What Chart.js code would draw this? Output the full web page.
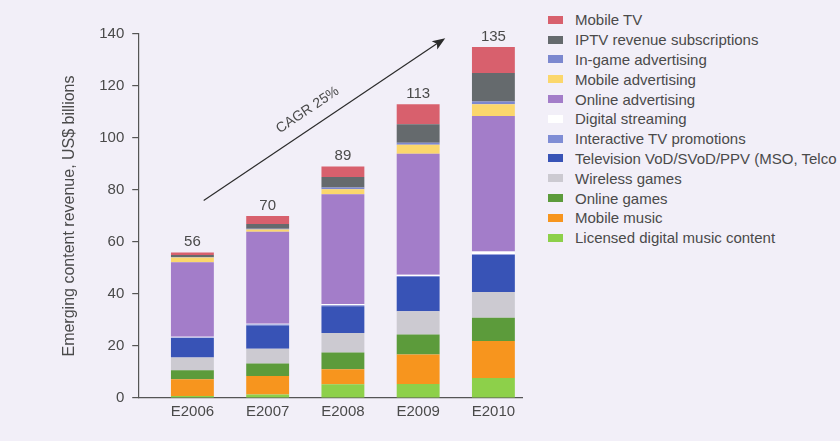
<!DOCTYPE html>
<html>
<head>
<meta charset="utf-8">
<script src="https://cdn.jsdelivr.net/npm/chart.js@4.4.1/dist/chart.umd.min.js"></script>
<style>
  body { margin: 0; background: #f2eff8; overflow: hidden; }
  #wrap { position: relative; width: 840px; height: 441px; }
  #plot { position: absolute; left: 0; top: 0; width: 540px; height: 441px; }
  #legend {
    position: absolute; left: 548px; top: 10px; margin: 0; padding: 0; list-style: none;
    font: 15px "Liberation Sans", Arial, sans-serif; color: #4a4a4a;
    white-space: nowrap;
  }
  #legend li { display: flex; align-items: center; height: 19.8px; }
  #legend span.sw { display: inline-block; width: 15px; height: 8px; margin-right: 12px; flex: none; }
</style>
</head>
<body>
<div id="wrap">
  <div id="plot"><canvas id="chartRevenue"></canvas></div>
  <ul id="legend"></ul>
</div>
<script>
// categories and series, stacked from the bottom up
const years = ['E2006', 'E2007', 'E2008', 'E2009', 'E2010'];

const licensedMusic   = [0.8, 1.3, 5.3, 5.4, 7.7];
const mobileMusic     = [6.4, 7.2, 5.8, 11.3, 14.2];
const onlineGames     = [3.5, 4.8, 6.4, 7.7, 9.0];
const wirelessGames   = [4.9, 5.6, 7.5, 9.0, 9.9];
const tvVod           = [7.5, 9.0, 10.3, 13.1, 14.2];
const interactiveTv   = [0.2, 0.4, 0.4, 0.4, 0.3];
const digitalStream   = [0.3, 0.3, 0.5, 0.5, 1.0];
const onlineAds       = [28.6, 35.3, 42.2, 46.5, 52.2];
const mobileAds       = [1.8, 0.9, 1.9, 3.5, 4.5];
const inGameAds       = [0.2, 0.3, 0.7, 0.8, 1.0];
const iptv            = [0.8, 1.8, 4.0, 7.1, 11.0];
const mobileTv        = [1.0, 3.1, 4.0, 7.7, 10.0];

const yTicks = { min: 0, max: 140, step: 20 };
const cagrText = 'CAGR 25%';
// arrow ends in data units (x = category index, y = US$ bn)
const cagrFrom = [0.15, 76];
const cagrTo = [3.36, 138.4];

const series = [
  ['Licensed digital music content', licensedMusic, '#8dd04a'],
  ['Mobile music', mobileMusic, '#f7951e'],
  ['Online games', onlineGames, '#5c9b3b'],
  ['Wireless games', wirelessGames, '#cccad1'],
  ['Television VoD/SVoD/PPV (MSO, Telco', tvVod, '#3853b6'],
  ['Interactive TV promotions', interactiveTv, '#7f8dd5'],
  ['Digital streaming', digitalStream, '#ffffff'],
  ['Online advertising', onlineAds, '#a37dc9'],
  ['Mobile advertising', mobileAds, '#fbd76c'],
  ['In-game advertising', inGameAds, '#7c88cf'],
  ['IPTV revenue subscriptions', iptv, '#656a6d'],
  ['Mobile TV', mobileTv, '#d8606d']
];

const FONT = '"Liberation Sans", Arial, sans-serif';
const TEXT = '#4a4a4a';
const AXIS = '#555555';
Chart.defaults.font.family = FONT;
Chart.defaults.font.size = 15;
Chart.defaults.color = TEXT;

// bar totals written above each stack
const totalsPlugin = {
  id: 'totals',
  afterDatasetsDraw(chart) {
    const { ctx, scales: { x, y } } = chart;
    ctx.save();
    ctx.font = '15px ' + FONT;
    ctx.fillStyle = TEXT;
    ctx.textAlign = 'center';
    ctx.textBaseline = 'bottom';
    years.forEach((_, i) => {
      const total = chart.data.datasets.reduce((s, ds) => s + ds.data[i].y, 0);
      ctx.fillText(String(Math.round(total)), x.getPixelForValue(i), y.getPixelForValue(total) - 3);
    });
    ctx.restore();
  }
};

// growth arrow with its caption
const cagrPlugin = {
  id: 'cagr',
  afterDatasetsDraw(chart) {
    const { ctx, scales: { x, y } } = chart;
    const x0 = x.getPixelForValue(cagrFrom[0]), y0 = y.getPixelForValue(cagrFrom[1]);
    const x1 = x.getPixelForValue(cagrTo[0]), y1 = y.getPixelForValue(cagrTo[1]);
    const ang = Math.atan2(y1 - y0, x1 - x0);
    ctx.save();
    ctx.strokeStyle = '#2b2b2b';
    ctx.fillStyle = '#2b2b2b';
    ctx.lineWidth = 1.2;
    ctx.beginPath();
    ctx.moveTo(x0, y0);
    ctx.lineTo(x1 - 8 * Math.cos(ang), y1 - 8 * Math.sin(ang));
    ctx.stroke();
    ctx.translate(x1, y1);
    ctx.rotate(ang);
    ctx.beginPath();
    ctx.moveTo(0, 0);
    ctx.lineTo(-13, -5);
    ctx.lineTo(-10, 0);
    ctx.lineTo(-13, 5);
    ctx.closePath();
    ctx.fill();
    ctx.restore();

    ctx.save();
    const t = 0.47;
    ctx.translate(x0 + (x1 - x0) * t, y0 + (y1 - y0) * t);
    ctx.rotate(ang);
    ctx.font = '14px ' + FONT;
    ctx.fillStyle = TEXT;
    ctx.textAlign = 'center';
    ctx.textBaseline = 'middle';
    ctx.fillText(cagrText, 0, -17);
    ctx.restore();
  }
};

new Chart(document.getElementById('chartRevenue'), {
  type: 'bar',
  data: {
    datasets: series.map(([label, values, color]) => ({
      label,
      data: values.map((v, i) => ({ x: i, y: v })),
      backgroundColor: color,
      borderWidth: 0,
      categoryPercentage: 1,
      barPercentage: 0.57
    }))
  },
  options: {
    responsive: true,
    maintainAspectRatio: false,
    animation: false,
    layout: { padding: { left: 60, right: 18, top: 34, bottom: 15 } },
    plugins: { legend: { display: false }, tooltip: { enabled: false } },
    scales: {
      x: {
        type: 'linear',
        stacked: true,
        offset: false,
        min: -0.72,
        max: 4.38,
        afterBuildTicks: axis => { axis.ticks = years.map((_, i) => ({ value: i })); },
        ticks: { callback: v => years[v], padding: 5, color: TEXT, maxRotation: 0 },
        grid: { display: false, drawTicks: false, offset: false },
        border: { color: AXIS, width: 1.2 }
      },
      y: {
        stacked: true,
        min: yTicks.min,
        max: yTicks.max,
        ticks: { stepSize: yTicks.step, padding: 8, color: TEXT },
        grid: { drawOnChartArea: false, tickLength: 6, color: AXIS, lineWidth: 1.2 },
        border: { color: AXIS, width: 1.2 },
        title: {
          display: true,
          text: 'Emerging content revenue, US$ billions',
          font: { size: 16 },
          color: TEXT,
          padding: { top: 0, bottom: 12 }
        }
      }
    }
  },
  plugins: [totalsPlugin, cagrPlugin]
});

// legend, top entry first
const legend = document.getElementById('legend');
series.slice().reverse().forEach(([label, , color]) => {
  const li = document.createElement('li');
  const sw = document.createElement('span');
  sw.className = 'sw';
  sw.style.background = color;
  li.appendChild(sw);
  li.appendChild(document.createTextNode(label));
  legend.appendChild(li);
});
</script>
</body>
</html>
